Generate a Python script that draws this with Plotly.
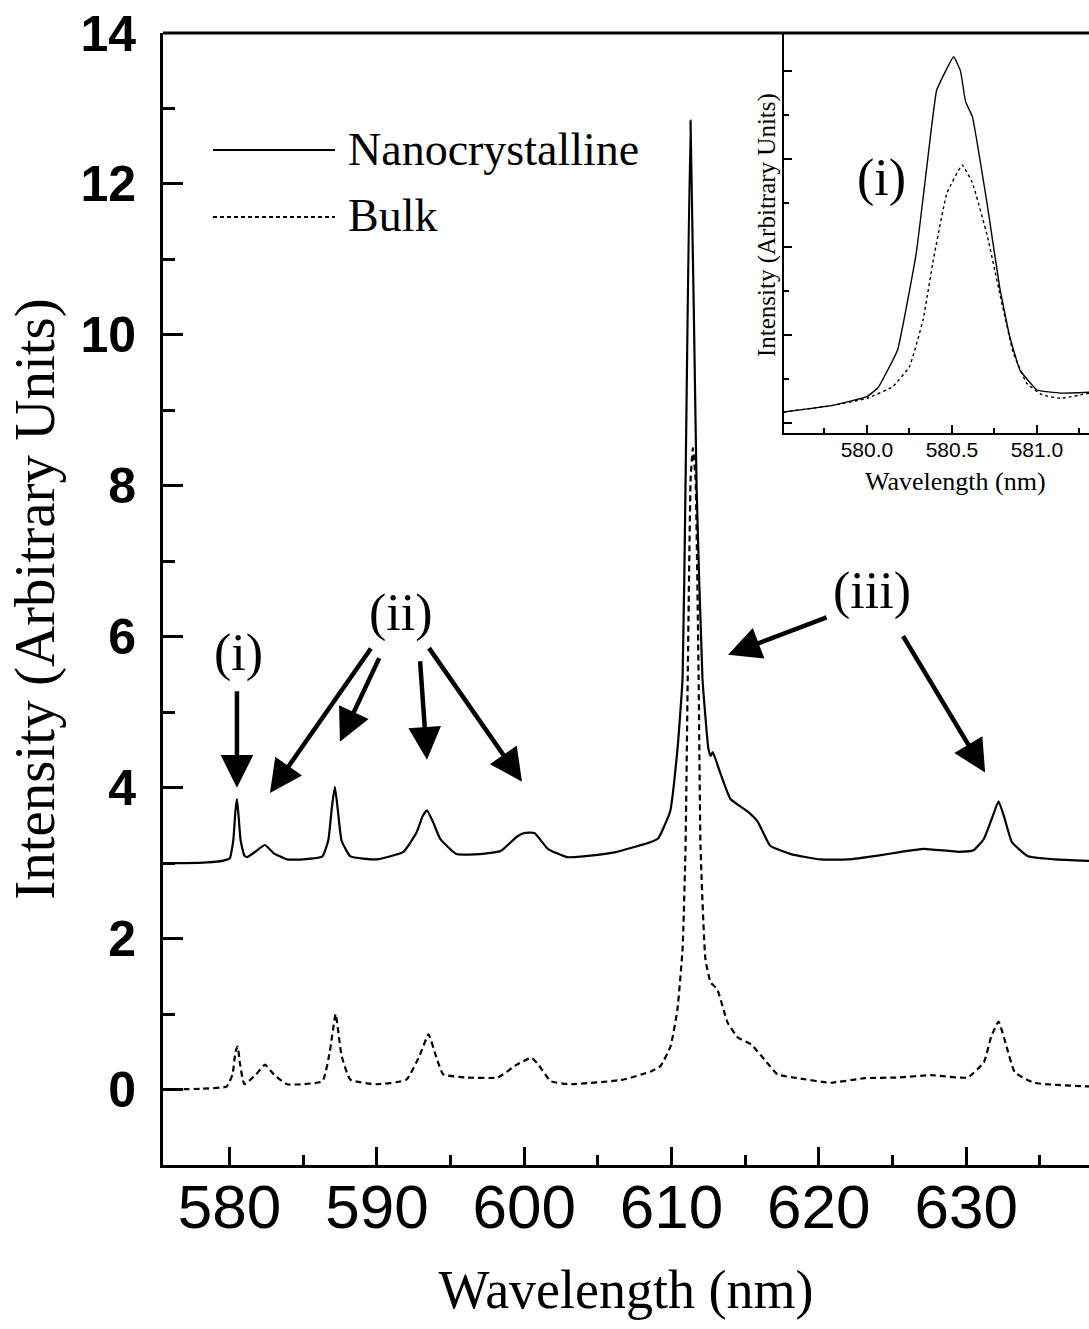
import plotly.graph_objects as go

# ---------------- data ----------------
wl_nano = [575.5, 577.0, 578.5, 579.5, 580.0, 580.25, 580.4, 580.5, 580.6, 580.75, 581.0, 581.2,
           581.8, 582.4, 583.0, 583.9, 585.0, 586.3, 586.7, 586.95, 587.15, 587.35, 587.6, 588.2,
           590.0, 591.8, 592.7, 593.1, 593.4, 593.8, 594.3, 595.4, 597.0, 598.4, 599.5, 600.0,
           600.7, 601.6, 602.9, 605.0, 606.3, 608.6, 609.1, 609.9, 610.4, 610.75, 610.95, 611.29,
           611.7, 612.1, 612.5, 612.65, 612.8, 613.3, 614.0, 615.2, 615.85, 616.7, 618.1, 620.1,
           622.0, 624.0, 625.6, 627.1, 629.5, 630.5, 631.2, 631.8, 632.2, 632.6, 633.1, 634.2,
           636.0, 638.4]
int_nano = [3.00, 3.00, 3.01, 3.03, 3.06, 3.30, 3.70, 3.85, 3.65, 3.30, 3.10, 3.08,
            3.16, 3.24, 3.13, 3.05, 3.05, 3.09, 3.30, 3.75, 4.01, 3.70, 3.30, 3.09,
            3.05, 3.15, 3.41, 3.62, 3.70, 3.55, 3.32, 3.12, 3.12, 3.16, 3.35, 3.40,
            3.40, 3.19, 3.08, 3.11, 3.15, 3.28, 3.33, 3.68, 4.50, 5.45, 8.00, 12.84,
            8.00, 5.45, 4.52, 4.42, 4.47, 4.20, 3.85, 3.68, 3.55, 3.23, 3.12, 3.05,
            3.05, 3.10, 3.15, 3.19, 3.15, 3.17, 3.32, 3.62, 3.82, 3.60, 3.28, 3.09,
            3.05, 3.03]

wl_bulk = [575.5, 578.0, 579.8, 580.2, 580.4, 580.55, 580.7, 581.0, 581.8, 582.4, 583.0, 583.9,
           586.3, 586.8, 587.2, 587.6, 588.2, 590.0, 592.0, 592.9, 593.5, 594.0, 594.5, 596.1,
           598.2, 599.5, 600.5, 601.0, 601.8, 603.1, 606.7, 608.6, 609.25, 609.93, 610.4, 610.75,
           610.95, 611.1, 611.3, 611.45, 611.63, 611.84, 611.97, 612.3, 612.65, 613.1, 613.8, 614.5,
           615.4, 616.3, 617.2, 618.6, 620.8, 623.1, 625.4, 627.6, 630.1, 631.2, 631.7, 632.2,
           632.7, 633.3, 634.6, 638.4]
int_bulk = [0.00, 0.01, 0.04, 0.20, 0.50, 0.57, 0.35, 0.07, 0.20, 0.33, 0.20, 0.07,
            0.11, 0.50, 1.00, 0.45, 0.13, 0.07, 0.13, 0.45, 0.73, 0.45, 0.20, 0.16,
            0.16, 0.33, 0.42, 0.32, 0.11, 0.07, 0.13, 0.24, 0.31, 0.57, 1.06, 1.86,
            3.20, 5.45, 8.10, 8.50, 8.10, 5.45, 3.20, 1.73, 1.42, 1.33, 0.89, 0.69,
            0.60, 0.40, 0.20, 0.15, 0.09, 0.15, 0.16, 0.19, 0.16, 0.36, 0.70, 0.90,
            0.60, 0.23, 0.09, 0.04]

inset_wl_nano = [579.51, 579.8, 580.0, 580.065, 580.18, 580.29, 580.38, 580.41, 580.51, 580.55,
                 580.58, 580.62, 580.71, 580.78, 580.84, 580.9, 581.0, 581.14, 581.31]
inset_int_nano = [0.125, 0.20, 0.30, 0.40, 0.83, 1.93, 3.36, 3.78, 4.16, 4.00,
                  3.65, 3.48, 2.45, 1.55, 0.98, 0.60, 0.375, 0.34, 0.35]
inset_wl_bulk = [579.51, 579.8, 580.0, 580.15, 580.25, 580.33, 580.39, 580.47, 580.56, 580.62,
                 580.71, 580.78, 580.86, 580.94, 581.03, 581.14, 581.31]
inset_int_bulk = [0.125, 0.20, 0.28, 0.41, 0.64, 1.17, 1.85, 2.61, 2.93, 2.73,
                  2.11, 1.48, 0.80, 0.45, 0.32, 0.28, 0.34]

series_names = ["Nanocrystalline", "Bulk"]
peak_labels = ["(i)", "(ii)", "(iii)"]

SERIF = "Liberation Serif, Times New Roman, serif"
SANS = "Liberation Sans, Arial, sans-serif"

fig = go.Figure()
fig.add_trace(go.Scatter(x=wl_nano, y=int_nano, mode="lines", name=series_names[0],
                         line=dict(color="black", width=2.2, shape="spline", smoothing=0.4),
                         xaxis="x", yaxis="y"))
fig.add_trace(go.Scatter(x=wl_bulk, y=int_bulk, mode="lines", name=series_names[1],
                         line=dict(color="black", width=2.2, dash="6px,4px", shape="spline", smoothing=0.4),
                         xaxis="x", yaxis="y"))
fig.add_trace(go.Scatter(x=inset_wl_nano, y=inset_int_nano, mode="lines", showlegend=False,
                         line=dict(color="black", width=1.4, shape="spline", smoothing=0.3),
                         xaxis="x2", yaxis="y2"))
fig.add_trace(go.Scatter(x=inset_wl_bulk, y=inset_int_bulk, mode="lines", showlegend=False,
                         line=dict(color="black", width=1.4, dash="3px,3px", shape="spline", smoothing=0.3),
                         xaxis="x2", yaxis="y2"))

fig.update_layout(
    width=1089, height=1329,
    margin=dict(l=163, r=0, t=33, b=164, pad=0),
    paper_bgcolor="white", plot_bgcolor="white",
    showlegend=False,
    xaxis=dict(domain=[0, 1], range=[575.48, 638.34], showgrid=False, zeroline=False,
               showline=True, linewidth=3, linecolor="black",
               ticks="inside", ticklen=18, tickwidth=3, tickcolor="black",
               tick0=580, dtick=10,
               minor=dict(dtick=5, ticks="inside", ticklen=10, tickwidth=3, tickcolor="black"),
               tickfont=dict(family=SANS, size=62, color="black"),
               ticklabelstandoff=-14,
               title=dict(text="Wavelength (nm)", font=dict(family=SERIF, size=54, color="black"),
                          standoff=30)),
    yaxis=dict(domain=[0, 1], range=[-1, 14], showgrid=False, zeroline=False,
               showline=True, linewidth=3, linecolor="black",
               ticks="inside", ticklen=20, tickwidth=3, tickcolor="black",
               tick0=0, dtick=2,
               minor=dict(dtick=1, ticks="inside", ticklen=12, tickwidth=3, tickcolor="black"),
               tickfont=dict(family=SANS, size=50, color="black", weight="bold"),
               ticklabelstandoff=14,
               title=dict(text="Intensity (Arbitrary Units)", font=dict(family=SERIF, size=57, color="black"),
                          standoff=8)),
    xaxis2=dict(domain=[0.6706, 1.0], anchor="y2", range=[579.512, 581.306], showgrid=False, zeroline=False,
                showline=True, linewidth=2, linecolor="black",
                ticks="inside", ticklen=8, tickwidth=1.5, tickcolor="black",
                tick0=580, dtick=0.5, tickformat=".1f",
                minor=dict(dtick=0.25, ticks="inside", ticklen=5, tickwidth=1.5, tickcolor="black"),
                tickfont=dict(family=SANS, size=21, color="black"),
                ticklabelstandoff=-3),
    yaxis2=dict(domain=[0.6466, 1.0], anchor="x2", range=[-0.114, 4.43], showgrid=False, zeroline=False,
                showline=True, linewidth=2, linecolor="black",
                ticks="inside", ticklen=8, tickwidth=1.5, tickcolor="black",
                tick0=0, dtick=1, showticklabels=False,
                minor=dict(dtick=0.5, ticks="inside", ticklen=5, tickwidth=1.5, tickcolor="black")),
)

# top frame line
fig.add_shape(type="line", xref="paper", yref="paper", x0=0, x1=1, y0=1, y1=1,
              line=dict(color="black", width=3))

# legend (drawn manually to get long line samples)
def px_x(p):
    return (p - 163) / 926.0

def px_y(p):
    return (1165 - p) / 1132.0

fig.add_shape(type="line", xref="paper", yref="paper", x0=px_x(213), x1=px_x(335),
              y0=px_y(150), y1=px_y(150), line=dict(color="black", width=2))
fig.add_shape(type="line", xref="paper", yref="paper", x0=px_x(213), x1=px_x(335),
              y0=px_y(217), y1=px_y(217), line=dict(color="black", width=2, dash="4px,3px"))
fig.add_annotation(xref="paper", yref="paper", x=px_x(346), y=px_y(150), text=series_names[0],
                   showarrow=False, xanchor="left", yanchor="middle",
                   font=dict(family=SERIF, size=46, color="black"))
fig.add_annotation(xref="paper", yref="paper", x=px_x(346), y=px_y(215), text=series_names[1],
                   showarrow=False, xanchor="left", yanchor="middle",
                   font=dict(family=SERIF, size=46, color="black"))

# peak labels
fig.add_annotation(x=580.58, y=5.79, text=peak_labels[0], showarrow=False,
                   font=dict(family=SERIF, size=52, color="black"))
fig.add_annotation(x=591.63, y=6.32, text=peak_labels[1], showarrow=False,
                   font=dict(family=SERIF, size=52, color="black"))
fig.add_annotation(x=623.61, y=6.60, text=peak_labels[2], showarrow=False,
                   font=dict(family=SERIF, size=52, color="black"))

# arrows: (tip wavelength, tip intensity, tail dx px, tail dy px)
arrows = [
    (580.50, 4.00, 0, -98),
    (582.74, 3.93, 102, -146),
    (587.49, 4.61, 40, -85),
    (593.40, 4.37, -7, -100),
    (599.85, 4.08, -94, -135),
    (613.84, 5.76, 100, -38),
    (631.29, 4.20, -83, -138),
]
for x, y, ax, ay in arrows:
    fig.add_annotation(x=x, y=y, ax=ax, ay=ay, axref="pixel", ayref="pixel", text="",
                       showarrow=True, arrowhead=2, arrowsize=1.45, arrowwidth=4.5,
                       arrowcolor="black", standoff=0, startstandoff=0)

# inset label and titles
fig.add_annotation(xref="x2", yref="y2", x=580.088, y=2.78, text=peak_labels[0], showarrow=False,
                   font=dict(family=SERIF, size=52, color="black"))
fig.add_annotation(xref="paper", yref="paper", x=px_x(955), y=px_y(481), text="Wavelength (nm)",
                   showarrow=False, xanchor="center", yanchor="middle",
                   font=dict(family=SERIF, size=26, color="black"))
fig.add_annotation(xref="paper", yref="paper", x=px_x(767), y=px_y(225), text="Intensity (Arbitrary Units)",
                   showarrow=False, textangle=-90, xanchor="center", yanchor="middle",
                   font=dict(family=SERIF, size=25, color="black"))

fig.write_html("out.html")
